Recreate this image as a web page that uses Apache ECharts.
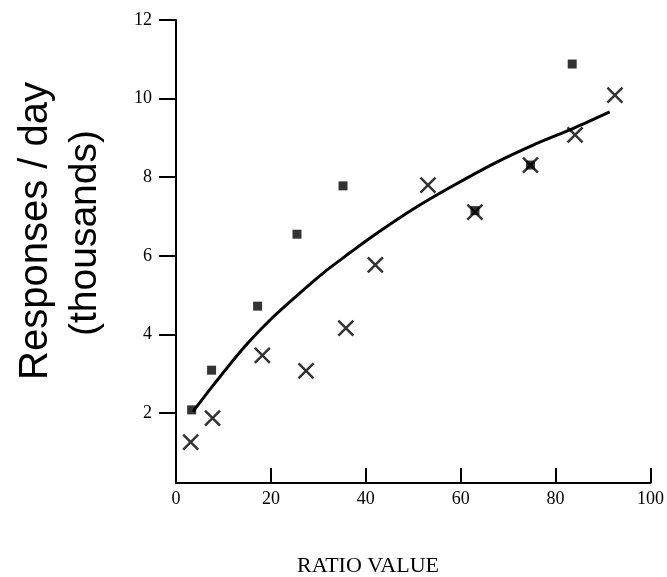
<!DOCTYPE html>
<html>
<head>
<meta charset="utf-8">
<script src="https://cdn.jsdelivr.net/npm/echarts@6/dist/echarts.min.js"></script>
<style>
  html, body { margin: 0; padding: 0; background: #fff; }
  #chart { width: 667px; height: 577px; }
</style>
</head>
<body>
<div id="chart"></div>
<script>
// filled squares
const squarePoints = [
  [3.3, 2.08], [7.5, 3.09], [17.2, 4.72], [25.5, 6.55],
  [35.2, 7.78], [63.0, 7.15], [74.7, 8.31], [83.5, 10.88]
];
// crosses
const crossPoints = [
  [3.1, 1.26], [7.7, 1.87], [18.2, 3.47], [27.4, 3.07], [35.8, 4.16],
  [42.0, 5.77], [53.1, 7.80], [63.0, 7.11], [74.7, 8.31], [84.1, 9.08], [92.5, 10.09]
];
// fitted curve
const curvePoints = [
  [3.6, 2.04], [8.2, 2.76], [14.4, 3.68], [20.1, 4.40], [25.5, 4.99],
  [31.2, 5.58], [36.8, 6.09], [41.2, 6.48], [49.6, 7.16], [57.9, 7.75],
  [67.2, 8.36], [75.5, 8.83], [83.9, 9.25], [91.4, 9.66]
];
const yTicks = [2, 4, 6, 8, 10, 12];
const xTitle = 'RATIO VALUE';
const yTitle = ['Responses / day', '(thousands)'];

const serif = '"Liberation Serif", "DejaVu Serif", serif';
const sans = '"Liberation Sans", Arial, sans-serif';

const chart = echarts.init(document.getElementById('chart'));

chart.setOption({
  backgroundColor: '#fff',
  animation: false,
  grid: { left: 176, right: 13, top: 20, bottom: 94 },
  xAxis: {
    type: 'value',
    min: 0,
    max: 100,
    interval: 20,
    splitLine: { show: false },
    axisLine: { lineStyle: { color: '#000', width: 2 } },
    axisTick: { inside: true, length: 15, lineStyle: { color: '#000', width: 2 } },
    axisLabel: { color: '#000', fontFamily: serif, fontSize: 18, margin: 7 }
  },
  yAxis: {
    type: 'value',
    min: 0.22,
    max: 12,
    splitLine: { show: false },
    axisLine: { show: true, lineStyle: { color: '#000', width: 2 } },
    axisTick: { customValues: yTicks, length: 17, lineStyle: { color: '#000', width: 2 } },
    axisLabel: { customValues: yTicks, color: '#000', fontFamily: serif, fontSize: 18, margin: 24 }
  },
  graphic: [
    {
      type: 'text', x: 36, y: 231, rotation: Math.PI / 2,
      style: { text: yTitle[0], font: '40px ' + sans, fill: '#000', align: 'center', verticalAlign: 'middle' }
    },
    {
      type: 'text', x: 85, y: 233, rotation: Math.PI / 2,
      style: { text: yTitle[1], font: '39px ' + sans, fill: '#000', align: 'center', verticalAlign: 'middle' }
    },
    {
      type: 'text', x: 368, y: 566,
      style: { text: xTitle, font: '22px ' + serif, fill: '#000', align: 'center', verticalAlign: 'middle' }
    }
  ],
  series: [
    {
      type: 'line',
      data: curvePoints,
      smooth: 0.3,
      showSymbol: false,
      lineStyle: { color: '#000', width: 3 }
    },
    {
      type: 'scatter',
      data: squarePoints,
      symbol: 'rect',
      symbolSize: 9,
      itemStyle: { color: '#000' }
    },
    {
      type: 'scatter',
      data: crossPoints,
      symbol: 'path://M0,0L10,10M10,0L0,10',
      symbolSize: 15,
      itemStyle: { color: 'none', borderColor: '#000', borderWidth: 2.5 }
    }
  ]
});
</script>
</body>
</html>
